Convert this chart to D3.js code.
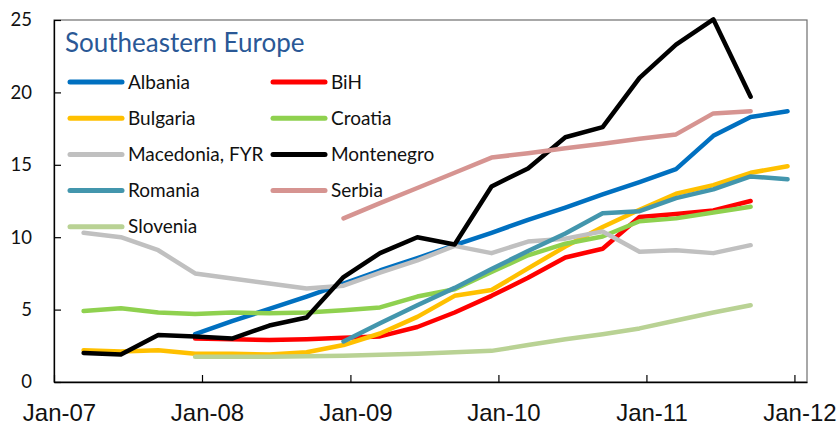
<!DOCTYPE html>
<html>
<head>
<meta charset="utf-8">
<script src="https://cdn.jsdelivr.net/npm/d3@7"></script>
<style>
    body { margin: 0; background: #fff; }
    svg { display: block; }
</style>
</head>
<body>
<svg id="chart" width="838" height="426"></svg>
<script>
// quarterly observations (plotted mid-month of the quarter's last month)
const quarters = [
    '2007-03-15', '2007-06-15', '2007-09-15', '2007-12-15',
    '2008-03-15', '2008-06-15', '2008-09-15', '2008-12-15',
    '2009-03-15', '2009-06-15', '2009-09-15', '2009-12-15',
    '2010-03-15', '2010-06-15', '2010-09-15', '2010-12-15',
    '2011-03-15', '2011-06-15', '2011-09-15', '2011-12-15'
];

const countries = [
    'Albania', 'BiH', 'Bulgaria', 'Croatia', 'Macedonia, FYR',
    'Montenegro', 'Romania', 'Serbia', 'Slovenia'
];

const colors = [
    '#0070c0', '#ff0000', '#ffc000', '#8fd14f', '#c0c0c0',
    '#000000', '#4396ad', '#d69491', '#b9d294'
];

const albania = [null, null, null, 3.3, 4.2, 5.05, 5.9, 6.8, 7.7, 8.55, 9.45, 10.3, 11.2, 12.05, 12.95, 13.8, 14.7, 17.0, 18.3, 18.7];
const bih = [null, null, null, 3.0, 2.95, 2.9, 2.95, 3.05, 3.15, 3.8, 4.8, 5.95, 7.2, 8.6, 9.2, 11.4, 11.6, 11.85, 12.5, null];
const bulgaria = [2.2, 2.1, 2.2, 1.95, 1.95, 1.9, 2.05, 2.55, 3.35, 4.5, 5.95, 6.35, 7.85, 9.35, 10.7, 11.9, 13.0, 13.6, 14.45, 14.9];
const croatia = [4.9, 5.1, 4.8, 4.7, 4.8, 4.75, 4.8, 4.95, 5.15, 5.9, 6.4, 7.6, 8.75, 9.55, 10.05, 11.1, 11.3, 11.7, 12.1, null];
const macedonia = [10.3, 10.0, 9.1, 7.5, 7.15, 6.8, 6.45, 6.65, 7.55, 8.4, 9.4, 8.9, 9.7, 9.9, 10.4, 9.0, 9.1, 8.9, 9.45, null];
const montenegro = [2.0, 1.9, 3.25, 3.15, 3.0, 3.9, 4.45, 7.25, 8.9, 10.0, 9.5, 13.5, 14.75, 16.9, 17.6, 21.0, 23.3, 25.05, 19.7, null];
const romania = [null, null, null, null, null, null, null, 2.8, 4.05, 5.3, 6.5, 7.8, 9.05, 10.25, 11.65, 11.8, 12.7, 13.3, 14.2, 14.0];
const serbia = [null, null, null, null, null, null, null, 11.3, 12.35, 13.4, 14.45, 15.5, 15.8, 16.15, 16.45, 16.8, 17.1, 18.55, 18.7, null];
const slovenia = [null, null, null, 1.75, 1.75, 1.75, 1.78, 1.82, 1.88, 1.95, 2.05, 2.15, 2.55, 2.95, 3.3, 3.7, 4.25, 4.8, 5.3, null];

const seriesValues = [albania, bih, bulgaria, croatia, macedonia, montenegro, romania, serbia, slovenia];

const yTicks = [0, 5, 10, 15, 20, 25];
const xTickLabels = ['Jan-07', 'Jan-08', 'Jan-09', 'Jan-10', 'Jan-11', 'Jan-12'];

const title = 'Southeastern Europe';

const parseDay = d3.timeParse('%Y-%m-%d');
const parseTick = d3.timeParse('%b-%y');
const dates = quarters.map(parseDay);

const margin = { left: 54, top: 20, right: 31, bottom: 44 };
const width = 838;
const height = 426;

const svg = d3.select('#chart');

const x = d3
    .scaleTime()
    .domain([parseTick('Jan-07'), new Date(2012, 1, 1)])
    .range([margin.left, width - margin.right]);

const y = d3
    .scaleLinear()
    .domain([0, 25])
    .range([height - margin.bottom, margin.top]);

// plot frame (top and right edges)
svg.append('rect')
    .attr('x', x.range()[0])
    .attr('y', y.range()[1])
    .attr('width', x.range()[1] - x.range()[0])
    .attr('height', y.range()[0] - y.range()[1])
    .style('fill', 'none')
    .style('stroke', '#6e6e6e')
    .style('stroke-width', 1.2);

// y axis
const yAxis = svg
    .append('g')
    .attr('transform', `translate(${margin.left},0)`)
    .call(d3.axisLeft(y).tickValues(yTicks).tickSizeInner(-7).tickSizeOuter(0).tickPadding(22));

yAxis.select('.domain').style('stroke', '#000').style('stroke-width', 1.3);
yAxis.selectAll('.tick line').style('stroke', '#000').style('stroke-width', 1.2);
yAxis.selectAll('.tick text')
    .style('font-family', 'Lato, "Open Sans", sans-serif')
    .style('font-size', '18.5px')
    .style('fill', '#111');

// x axis
const xAxis = svg
    .append('g')
    .attr('transform', `translate(0,${height - margin.bottom})`)
    .call(
        d3.axisBottom(x)
            .tickValues(xTickLabels.map(parseTick))
            .tickFormat(d3.timeFormat('%b-%y'))
            .tickSizeInner(-7)
            .tickSizeOuter(0)
            .tickPadding(22)
    );

xAxis.select('.domain').style('stroke', '#000').style('stroke-width', 1.3);
xAxis.selectAll('.tick line').style('stroke', '#000').style('stroke-width', 1.2);
xAxis.selectAll('.tick text')
    .attr('dx', 5)
    .style('font-family', '"Liberation Sans Narrow", "Liberation Sans", Arial, sans-serif')
    .style('font-size', '24px')
    .style('fill', '#111');

// lines
const line = d3
    .line()
    .defined((d) => d.value != null)
    .x((d) => x(d.date))
    .y((d) => y(d.value));

const series = countries.map((name, i) => ({
    name,
    color: colors[i],
    points: seriesValues[i].map((v, j) => ({ date: dates[j], value: v }))
}));

svg.append('g')
    .attr('class', 'lines')
    .selectAll('path')
    .data(series)
    .join('path')
    .attr('d', (d) => line(d.points))
    .style('fill', 'none')
    .style('stroke', (d) => d.color)
    .style('stroke-width', 4.5)
    .style('stroke-linejoin', 'round')
    .style('stroke-linecap', 'round');

// title + legend
svg.append('text')
    .attr('x', 65)
    .attr('y', 52)
    .text(title)
    .style('font-family', 'Lato, "Open Sans", sans-serif')
    .style('font-size', '26px')
    .style('fill', '#2a5896');

const legend = svg
    .append('g')
    .attr('class', 'legend')
    .selectAll('g')
    .data(series)
    .join('g')
    .attr('transform', (d, i) => `translate(${i % 2 ? 273 : 70},${82 + Math.floor(i / 2) * 36.2})`);

legend.append('line')
    .attr('x1', 0)
    .attr('x2', 52)
    .style('stroke', (d) => d.color)
    .style('stroke-width', 5)
    .style('stroke-linecap', 'round');

legend.append('text')
    .attr('x', 58)
    .attr('dy', '0.35em')
    .text((d) => d.name)
    .style('font-family', 'Lato, "Open Sans", sans-serif')
    .style('font-size', '19px')
    .style('fill', '#111');
</script>
</body>
</html>
